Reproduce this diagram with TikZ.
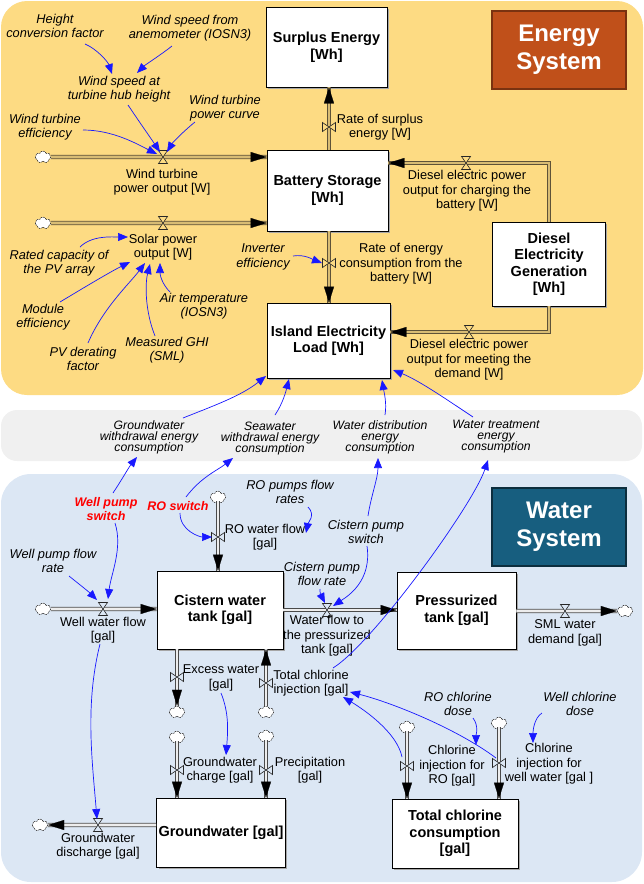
\documentclass[tikz,border=0pt]{standalone}
\usepackage{fontspec}
\setmainfont{Liberation Sans}
\usetikzlibrary{arrows.meta,calc,shapes.symbols}
\definecolor{ebg}{HTML}{FDDB83}
\definecolor{gbg}{HTML}{F0F0F0}
\definecolor{wbg}{HTML}{DCE7F4}
\definecolor{eboxf}{HTML}{C0501A}
\definecolor{eboxd}{HTML}{7A3210}
\definecolor{wboxf}{HTML}{175E7F}
\definecolor{wboxd}{HTML}{0C2E3E}
\definecolor{linkc}{HTML}{1818FF}
\definecolor{pipeEo}{HTML}{5E5238}
\definecolor{pipeEi}{HTML}{D8BC74}
\definecolor{pipeWo}{HTML}{4A4A4A}
\definecolor{pipeWi}{HTML}{EDEDED}
\newcommand{\flowE}[1]{\draw[pipeE] #1; \draw[tipE] #1;}
\newcommand{\flowW}[1]{\draw[pipeW] #1; \draw[tipW] #1;}
\begin{document}
\lineskiplimit=-20pt
\begin{tikzpicture}[x=1pt,y=-1pt,
 txt/.style={align=center, inner sep=0pt, font=\fontsize{12.8}{14.5}\selectfont},
 aux/.style={align=center, inner sep=0pt, font=\fontsize{12.8}{14.5}\selectfont\itshape},
 bandlbl/.style={align=center, inner sep=0pt, font=\fontsize{12.2}{11}\selectfont\itshape},
 swlbl/.style={align=center, inner sep=0pt, text=red, font=\fontsize{12.5}{14.5}\selectfont\bfseries\itshape},
 stock/.style={draw=black, line width=0.7pt, fill=white, align=center, inner sep=2pt, font=\fontsize{14.5}{16.5}\selectfont\bfseries},
 sysbox/.style={align=center, text=white, line width=2.2pt, font=\fontsize{24}{28}\selectfont\bfseries},
 cloudst/.style={cloud, cloud puffs=7, aspect=1.3, draw=black, line width=0.5pt, dash pattern=on 1.5pt off 1pt, fill=white, minimum width=16pt, minimum height=12pt, inner sep=0pt},
 pipeE/.style={draw=pipeEo, double=pipeEi, line width=0.75pt, double distance=2.6pt},
 pipeW/.style={draw=pipeWo, double=pipeWi, line width=0.75pt, double distance=2.6pt},
 tipE/.style={draw=pipeEi, line width=0.2pt, -{Triangle[length=16pt,width=10pt,color=black,fill=black]}},
 tipW/.style={draw=pipeWi, line width=0.2pt, -{Triangle[length=16pt,width=10pt,color=black,fill=black]}},
 valvest/.style={draw=black!85, line width=0.6pt},
 link/.style={draw=linkc, line width=0.7pt, -{Triangle[length=10pt,width=8pt]}},
 shadowbox/.style={fill=black!35},
 pics/valveh/.style={code={\draw[valvest,fill=#1] (-4.5,-6.5) -- (4.5,-6.5) -- (-4.5,6.5) -- (4.5,6.5) -- cycle;}},
 pics/valvev/.style={code={\draw[valvest,fill=#1] (-6.5,-4.5) -- (-6.5,4.5) -- (6.5,-4.5) -- (6.5,4.5) -- cycle;}},
]
\useasboundingbox (0,0) rectangle (644,884);
% backgrounds
\fill[ebg, rounded corners=26pt] (1,1) rectangle (643,395);
\fill[gbg, rounded corners=16pt] (1,410) rectangle (642,461);
\fill[wbg, rounded corners=30pt] (1,474) rectangle (642,882);

% system titles
\node[sysbox, fill=eboxf, draw=eboxd, minimum width=134pt, minimum height=78pt] (ES) at (559,50) {Energy\\System};
\node[sysbox, fill=wboxf, draw=wboxd, minimum width=134pt, minimum height=78pt] (WS) at (559,527) {Water\\System};

% stock shadows
\fill[shadowbox] (268,9) rectangle (389,89);
\fill[shadowbox] (269,152) rectangle (390,233);
\fill[shadowbox] (269,305) rectangle (392,380);
\fill[shadowbox] (494,224) rectangle (607,308);
\fill[shadowbox] (159,573) rectangle (285,651);
\fill[shadowbox] (399,574) rectangle (518,651);
\fill[shadowbox] (159,800) rectangle (287,869);
\fill[shadowbox] (394,801) rectangle (520,870);

% stocks
\node[stock, minimum width=121pt, minimum height=80pt] (SE) at (326.5,47) {Surplus Energy\\{[Wh]}};
\node[stock, minimum width=121pt, minimum height=81pt] (BS) at (327.5,190.5) {Battery Storage\\{[Wh]}};
\node[stock, minimum width=123pt, minimum height=75pt] (IEL) at (328.5,340.5) {Island Electricity\\Load [Wh]};
\node[stock, minimum width=113pt, minimum height=84pt] (DEG) at (549,264) {Diesel\\Electricity\\Generation\\{[Wh]}};
\node[stock, minimum width=126pt, minimum height=78pt] (CWT) at (220,610) {Cistern water\\tank [gal]};
\node[stock, minimum width=119pt, minimum height=77pt] (PT) at (456.5,610.5) {Pressurized\\tank [gal]};
\node[stock, minimum width=128pt, minimum height=69pt] (GW) at (221,832.5) {Groundwater [gal]};
\node[stock, minimum width=126pt, minimum height=69pt] (TCC) at (455,833.5) {Total chlorine\\consumption\\{[gal]}};

% clouds
\node[cloudst] (cWind) at (43,157) {};
\node[cloudst] (cSolar) at (43,223) {};
\node[cloudst] (cWell) at (43,609) {};
\node[cloudst] (cRO) at (218,497) {};
\node[cloudst] (cSml) at (625,611) {};
\node[cloudst] (cEx) at (177,712) {};
\node[cloudst] (cTci) at (266,712) {};
\node[cloudst] (cGwc) at (177,737) {};
\node[cloudst] (cPre) at (266,736) {};
\node[cloudst] (cGwd) at (40,825) {};
\node[cloudst] (cCiro) at (407,727) {};
\node[cloudst] (cCiw) at (499,723) {};

% valve positions
\coordinate (vWind) at (163,157);
\coordinate (vSolar) at (163,223);
\coordinate (vSurp) at (329,127);
\coordinate (vCons) at (329,263);
\coordinate (vDch) at (466,163);
\coordinate (vDdm) at (469,332);
\coordinate (vWell) at (103,609);
\coordinate (vRO) at (218,537);
\coordinate (vWfp) at (327,610);
\coordinate (vSml) at (565,611);
\coordinate (vEx) at (177,677);
\coordinate (vTci) at (266,683);
\coordinate (vGwc) at (177,770);
\coordinate (vPre) at (266,770);
\coordinate (vGwd) at (98,825);
\coordinate (vCiro) at (407,766);
\coordinate (vCiw) at (499,763);

% energy flows
\flowE{(cWind.east) -- (BS.west |- cWind)}
\flowE{(cSolar.east) -- (BS.west |- cSolar)}
\flowE{(BS.north -| vSurp) -- (SE.south -| vSurp)}
\flowE{(BS.south -| vCons) -- (IEL.north -| vCons)}
\flowE{(DEG.north) |- (BS.east |- vDch)}
\flowE{(DEG.south) |- (IEL.east |- vDdm)}

% water flows
\flowW{(cWell.east) -- (CWT.west |- cWell)}
\flowW{(cRO.south) -- (CWT.north -| cRO)}
\flowW{(CWT.east |- vWfp) -- (PT.west |- vWfp)}
\flowW{(PT.east |- vSml) -- (cSml.west)}
\flowW{(CWT.south -| vEx) -- (cEx.north)}
\flowW{(cTci.north) -- (CWT.south -| vTci)}
\flowW{(cGwc.south) -- (GW.north -| vGwc)}
\flowW{(cPre.south) -- (GW.north -| vPre)}
\flowW{(GW.west |- vGwd) -- (cGwd.east)}
\flowW{(cCiro.south) -- (TCC.north -| vCiro)}
\flowW{(cCiw.south) -- (TCC.north -| vCiw)}

% valves
\pic at (vWind) {valveh=ebg};
\pic at (vSolar) {valveh=ebg};
\pic at (vDch) {valveh=ebg};
\pic at (vDdm) {valveh=ebg};
\pic at (vSurp) {valvev=ebg};
\pic at (vCons) {valvev=ebg};
\pic at (vWell) {valveh=wbg};
\pic at (vWfp) {valveh=wbg};
\pic at (vSml) {valveh=wbg};
\pic at (vGwd) {valveh=wbg};
\pic at (vRO) {valvev=wbg};
\pic at (vEx) {valvev=wbg};
\pic at (vTci) {valvev=wbg};
\pic at (vGwc) {valvev=wbg};
\pic at (vPre) {valvev=wbg};
\pic at (vCiro) {valvev=wbg};
\pic at (vCiw) {valvev=wbg};

% energy labels
\node[aux] (hcf) at (55,26) {Height\\conversion factor};
\node[aux] (wsa) at (190,28) {Wind speed from\\anemometer (IOSN3)};
\node[aux] (wsh) at (119,89) {Wind speed at\\turbine hub height};
\node[aux] (wpc) at (225,108) {Wind turbine\\power curve};
\node[aux] (wte) at (45,127) {Wind turbine\\efficiency};
\node[txt] (wpo) at (162,182) {Wind turbine\\power output [W]};
\node[txt] (spo) at (163,247) {Solar power\\output [W]};
\node[aux] (rc) at (59,263) {Rated capacity of\\the PV array};
\node[aux] (me) at (43,317) {Module\\efficiency};
\node[aux] (pvd) at (83,359) {PV derating\\factor};
\node[aux] (ghi) at (167,350) {Measured GHI\\(SML)};
\node[aux] (at) at (204,306) {Air temperature\\(IOSN3)};
\node[aux] (ie) at (263,257) {Inverter\\efficiency};
\node[txt] (rse) at (380,127) {Rate of surplus\\energy [W]};
\node[txt] (rec) at (401,264) {Rate of energy\\consumption from the\\battery [W]};
\node[txt] (dch) at (467,191) {Diesel electric power\\output for charging the\\battery [W]};
\node[txt] (ddm) at (469,360) {Diesel electric power\\output for meeting the\\demand [W]};

% band labels
\node[bandlbl] (gwe) at (149,437) {Groundwater\\withdrawal energy\\consumption};
\node[bandlbl] (swe) at (270,438) {Seawater\\withdrawal energy\\consumption};
\node[bandlbl] (wde) at (380,437) {Water distribution\\energy\\consumption};
\node[bandlbl] (wte2) at (496,437) {Water treatment\\energy\\consumption};

% water labels
\node[swlbl] (wps) at (106,509) {Well pump\\switch};
\node[swlbl] (ros) at (178,506) {RO switch};
\node[aux] (wpfr) at (53,561) {Well pump flow\\rate};
\node[aux] (ropfr) at (290,492) {RO pumps flow\\rates};
\node[aux] (cps) at (366,532) {Cistern pump\\switch};
\node[aux] (cpfr) at (322,574) {Cistern pump\\flow rate};
\node[aux] (rocd) at (458,704) {RO chlorine\\dose};
\node[aux] (wcd) at (580,704) {Well chlorine\\dose};
\node[txt] (wwf) at (103,630) {Well water flow\\{[gal]}};
\node[txt] (rwf) at (265,537) {RO water flow\\{[gal]}};
\node[txt] (wfp) at (327,636) {Water flow to\\the pressurized\\tank [gal]};
\node[txt] (sml) at (565,633) {SML water\\demand [gal]};
\node[txt] (exw) at (221,678) {Excess water\\{[gal]}};
\node[txt] (tci) at (311,683) {Total chlorine\\injection [gal]};
\node[txt] (gwc) at (220,770) {Groundwater\\charge [gal]};
\node[txt] (pre) at (310,770) {Precipitation\\{[gal]}};
\node[txt] (gwd) at (98,846) {Groundwater\\discharge [gal]};
\node[txt] (ciro) at (452,766) {Chlorine\\injection for\\RO [gal]};
\node[txt] (ciw) at (549,764) {Chlorine\\injection for\\well water [gal ]};

% energy links
\draw[link] ($(hcf)+(30,18)$) .. controls +(12,5) and +(-4,-12) .. ($(wsh)+(-7,-15)$);
\draw[link] ($(wsa)+(-18,18)$) .. controls +(-10,8) and +(8,-8) .. ($(wsh)+(18,-16)$);
\draw[link] ($(wsh)+(9,16)$) .. controls +(10,15) and +(-8,-12) .. ($(vWind)+(-3,-5)$);
\draw[link] ($(wpc)+(-30,14)$) .. controls +(-10,8) and +(6,-10) .. ($(vWind)+(4,-5)$);
\draw[link] ($(wte)+(38,3)$) .. controls +(30,0) and +(-20,-10) .. ($(vWind)+(-6,-3)$);
\draw[link] ($(rc)+(21,-16)$) .. controls +(12,-12) and +(-15,0) .. ($(spo)+(-35,-10)$);
\draw[link] ($(me)+(17,-15)$) .. controls +(25,-15) and +(-20,10) .. ($(spo)+(-33,15)$);
\draw[link] ($(pvd)+(5,-16)$) .. controls +(15,-35) and +(-15,20) .. ($(spo)+(-18,16)$);
\draw[link] ($(ghi)+(-12,-14)$) .. controls +(-10,-25) and +(-5,20) .. ($(spo)+(-13,17)$);
\draw[link] ($(at)+(-34,-14)$) .. controls +(-8,-8) and +(0,12) .. ($(spo)+(-3,16)$);
\draw[link] ($(ie)+(30,-1)$) .. controls +(12,-2) and +(-8,-3) .. ($(vCons)+(-7,0)$);
\draw[link] ($(gwe)+(34,-19)$) .. controls +(30,-12) and +(-25,20) .. ($(IEL)+(-62.5,35.5)$);
\draw[link] ($(swe)+(5,-23)$) .. controls +(8,-12) and +(-3,12) .. ($(IEL)+(-39.5,38.5)$);
\draw[link] ($(wde)+(5,-22)$) .. controls +(2,-12) and +(2,12) .. ($(IEL)+(53.5,39.5)$);
\draw[link] ($(wte2)+(-23,-20)$) .. controls +(-30,-20) and +(25,10) .. ($(IEL)+(64.5,29.5)$);

% water links
\draw[link] ($(wps)+(7,-16)$) .. controls +(8,-12) and +(-8,10) .. ($(gwe)+(-12,20)$);
\draw[link] ($(wps)+(9,14)$) .. controls +(8,25) and +(3,-25) .. ($(vWell)+(5,-10)$);
\draw[link] ($(wpfr)+(16,15)$) .. controls +(10,8) and +(-8,-8) .. ($(vWell)+(-6,-9)$);
\draw[link] ($(ros)+(8,-9)$) .. controls +(15,-20) and +(-15,12) .. ($(swe)+(-37,20)$);
\draw[link] ($(ros)+(2,7)$) .. controls +(0,18) and +(-12,0) .. ($(vRO)+(-6,0)$);
\draw[link] ($(ropfr)+(18,15)$) .. controls +(8,8) and +(2,-10) .. ($(rwf)+(41,-4)$);
\draw[link] ($(cps)+(2,-16)$) .. controls +(3,-20) and +(0,20) .. ($(wde)+(-2,21)$);
\draw[link] ($(cps)+(1,14)$) .. controls +(5,35) and +(15,-10) .. ($(vWfp)+(6,-4)$);
\draw[link] ($(cpfr)+(-2,15)$) .. controls +(0,8) and +(-3,-6) .. ($(vWfp)+(-2,-7)$);
\draw[link] ($(wwf)+(-3,14)$) .. controls +(-15,60) and +(-5,-60) .. ($(vGwd)+(-1,-6)$);
\draw[link] ($(exw)+(0,15)$) .. controls +(8,20) and +(2,-25) .. ($(gwc)+(6,-15)$);
\draw[link] ($(tci)+(22,-15)$) .. controls +(40,-25) and +(-15,45) .. ($(wte2)+(-8,23)$);
\draw[link] ($(vCiro)+(-5,-9)$) .. controls +(-5,-25) and +(20,12) .. ($(tci)+(32,14)$);
\draw[link] ($(vCiw)+(-3,-5)$) .. controls +(-40,-30) and +(40,10) .. ($(tci)+(39,9)$);
\draw[link] ($(rocd)+(15,14)$) .. controls +(6,8) and +(0,-10) .. ($(rocd)+(18,41)$);
\draw[link] ($(wcd)+(-38,9)$) .. controls +(-8,5) and +(0,-12) .. ($(ciw)+(-16,-21)$);
\end{tikzpicture}
\end{document}
